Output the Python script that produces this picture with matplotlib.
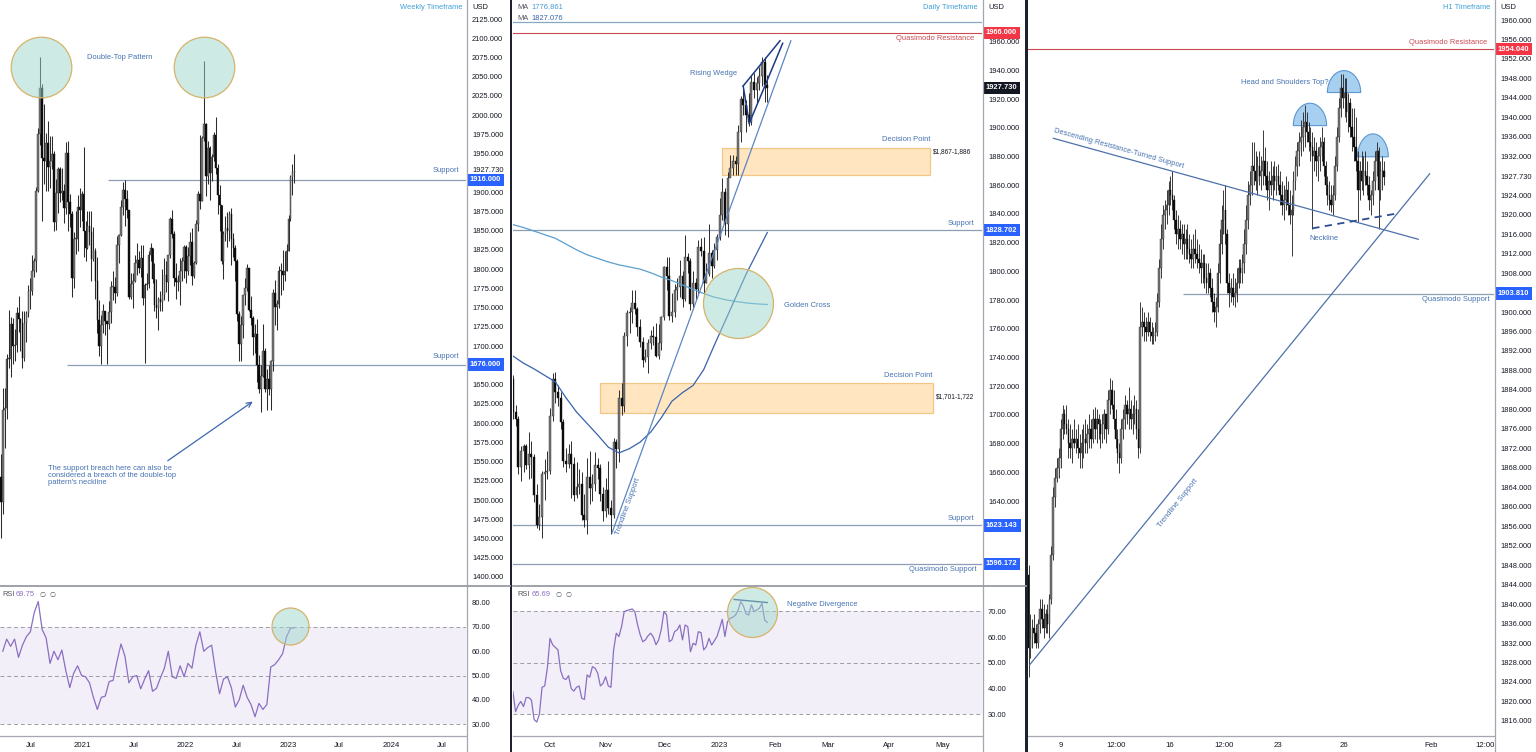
import datetime as dt
import numpy as np
import matplotlib
matplotlib.use("Agg")
import matplotlib.pyplot as plt
import matplotlib.dates as mdates
from matplotlib.patches import Rectangle, Polygon
from matplotlib.lines import Line2D

W, H = 1536, 752
FONT = ['Liberation Sans', 'DejaVu Sans']
plt.rcParams['font.family'] = FONT
FS = 5.4

TXT = '#131722'
NOTE = '#4571b1'
TF = '#3f9fd6'
LEVEL = '#8c9eb4'
RED = '#cc4a52'
BOXBLUE = '#2962ff'
BOXRED = '#f23645'
RSI_C = '#8a6fc0'
FRAME = '#a4a7b0'
UP, DOWN = '#767676', '#0c0c0c'

# ---------------- weekly XAU/USD (left panel) ----------------
w_first = dt.date(2020, 3, 16)
w_open0 = 1530
w_close = [1498, 1617, 1620, 1683, 1683, 1729, 1700, 1702, 1743, 1735, 1730, 1684, 1730, 1743, 1771, 1772, 1798, 1810, 1902, 1975,
           2035, 1944, 1940, 1964, 1933, 1940, 1950, 1861, 1899, 1930, 1899, 1902, 1879, 1951, 1887, 1871, 1788, 1839, 1839, 1881,
           1877, 1898, 1850, 1828, 1856, 1848, 1813, 1824, 1784, 1734, 1700, 1727, 1745, 1732, 1729, 1744, 1777, 1777, 1769, 1831,
           1844, 1881, 1903, 1891, 1877, 1764, 1781, 1784, 1808, 1812, 1802, 1814, 1763, 1779, 1781, 1818, 1827, 1787, 1754, 1750,
           1761, 1757, 1767, 1792, 1783, 1818, 1865, 1846, 1788, 1783, 1783, 1798, 1811, 1829, 1797, 1817, 1835, 1791, 1808, 1859,
           1898, 1889, 1970, 1988, 1921, 1958, 1925, 1946, 1974, 1931, 1896, 1883, 1811, 1846, 1853, 1850, 1871, 1839, 1827, 1811,
           1742, 1703, 1727, 1766, 1775, 1802, 1747, 1737, 1712, 1716, 1675, 1644, 1661, 1694, 1644, 1657, 1644, 1681, 1769, 1751,
           1755, 1797, 1797, 1793, 1798, 1824, 1865, 1920, 1926, 1928]
w_high = [1560, 1645, 1645, 1690, 1747, 1738, 1737, 1722, 1751, 1765, 1736, 1745, 1745, 1745, 1779, 1789, 1818, 1815, 1907, 1984,
          2075, 2040, 2015, 1977, 1992, 1973, 1973, 1954, 1917, 1933, 1933, 1931, 1910, 1965, 1966, 1898, 1875, 1848, 1875, 1896,
          1906, 1901, 1959, 1863, 1875, 1875, 1875, 1855, 1827, 1816, 1760, 1740, 1755, 1745, 1733, 1758, 1785, 1797, 1790, 1843,
          1846, 1890, 1913, 1916, 1903, 1877, 1795, 1795, 1818, 1834, 1824, 1832, 1832, 1782, 1795, 1823, 1834, 1827, 1808, 1787,
          1764, 1771, 1800, 1814, 1810, 1819, 1868, 1877, 1849, 1808, 1793, 1815, 1816, 1831, 1831, 1829, 1848, 1853, 1810, 1864,
          1902, 1974, 1973, 2070, 1990, 1966, 1960, 1949, 1978, 1998, 1937, 1909, 1883, 1849, 1869, 1874, 1875, 1879, 1847, 1831,
          1813, 1745, 1739, 1767, 1788, 1807, 1802, 1765, 1739, 1729, 1735, 1688, 1675, 1729, 1697, 1670, 1676, 1682, 1774, 1786,
          1760, 1804, 1808, 1825, 1823, 1833, 1870, 1922, 1937, 1949]
w_low = [1451, 1482, 1568, 1605, 1672, 1660, 1677, 1681, 1692, 1718, 1693, 1671, 1680, 1705, 1738, 1748, 1767, 1790, 1796, 1900,
         1961, 1863, 1911, 1902, 1902, 1906, 1930, 1849, 1851, 1873, 1887, 1890, 1860, 1872, 1850, 1855, 1764, 1775, 1820, 1823,
         1855, 1863, 1816, 1811, 1826, 1831, 1785, 1810, 1761, 1717, 1687, 1677, 1717, 1714, 1677, 1722, 1730, 1760, 1756, 1765,
         1808, 1843, 1870, 1856, 1866, 1761, 1761, 1750, 1783, 1792, 1795, 1790, 1753, 1678, 1773, 1775, 1810, 1782, 1745, 1737,
         1721, 1746, 1746, 1760, 1770, 1758, 1815, 1840, 1778, 1761, 1771, 1753, 1785, 1789, 1782, 1793, 1805, 1780, 1788, 1807,
         1850, 1878, 1889, 1966, 1895, 1910, 1890, 1915, 1940, 1924, 1872, 1850, 1807, 1787, 1836, 1829, 1836, 1805, 1816, 1784,
         1732, 1681, 1680, 1711, 1754, 1771, 1746, 1728, 1688, 1691, 1654, 1639, 1614, 1660, 1640, 1617, 1637, 1617, 1668, 1728,
         1721, 1749, 1766, 1773, 1785, 1797, 1823, 1863, 1896, 1912]
# weekly RSI, read every second week (weeks 1, 3, 5, ...)
w_rsi = [60, 65, 62, 65, 57.5, 62.5, 66, 68, 76, 80.5, 69, 65.5, 55, 60, 56.5, 60.5, 52, 45, 51, 54,
         50, 49.5, 47, 41, 36, 41, 41.5, 47.5, 48, 56, 63, 58, 47, 49.5, 50, 44.5, 48.5, 52, 43.5, 44.7,
         49, 53, 60, 49.5, 48.8, 54, 49.5, 55, 53, 62.5, 68, 60, 61.5, 62.5, 51.6, 42.5, 48.5, 49.5, 45, 37,
         40, 46, 41, 38, 33, 38.5, 36, 38, 53.5, 54.5, 56.5, 59, 66, 69.5, 69.75]
w_date_ticks = [dt.date(2020, 7, 1), dt.date(2021, 1, 1), dt.date(2021, 7, 1), dt.date(2022, 1, 1), dt.date(2022, 7, 1),
                dt.date(2023, 1, 1), dt.date(2023, 7, 1), dt.date(2024, 1, 1), dt.date(2024, 7, 1)]
w_date_labels = ['Jul', '2021', 'Jul', '2022', 'Jul', '2023', 'Jul', '2024', 'Jul']

# ---------------- daily XAU/USD (middle panel), 13 Sep 2022 - 27 Jan 2023 ----------------
d_open0 = 1725
d_close = [1702, 1697, 1664, 1675, 1678, 1665, 1673, 1671, 1644, 1623, 1629, 1659, 1660, 1661,
           1699, 1725, 1716, 1712, 1695, 1668, 1666, 1673, 1666, 1644, 1650, 1652, 1630, 1627, 1657, 1649, 1652, 1665, 1663, 1645, 1633,
           1648, 1635, 1630, 1681, 1676, 1712, 1706, 1755, 1771, 1772, 1778, 1774, 1761, 1751, 1738, 1740, 1750, 1755, 1754, 1741, 1750, 1768,
           1803, 1797, 1769, 1772, 1787, 1789, 1797, 1781, 1810, 1807, 1777, 1792, 1788, 1817, 1814, 1792, 1798, 1813, 1804, 1815, 1824,
           1839, 1855, 1833, 1865, 1872, 1877, 1875, 1897, 1920, 1916, 1909, 1904, 1932, 1926, 1931, 1936, 1946, 1930, 1928]
d_high = [1728, 1707, 1699, 1678, 1680, 1680, 1688, 1682, 1673, 1652, 1638, 1661, 1669, 1675,
          1705, 1729, 1730, 1721, 1716, 1697, 1677, 1680, 1682, 1671, 1667, 1662, 1660, 1645, 1670, 1675, 1659, 1674, 1670, 1666, 1650,
          1656, 1668, 1641, 1684, 1683, 1717, 1722, 1758, 1773, 1775, 1787, 1787, 1775, 1767, 1754, 1746, 1753, 1759, 1762, 1764, 1763, 1769,
          1804, 1810, 1810, 1785, 1791, 1795, 1808, 1800, 1825, 1813, 1809, 1800, 1795, 1822, 1823, 1824, 1806, 1833, 1815, 1820, 1826,
          1851, 1865, 1858, 1869, 1881, 1881, 1880, 1902, 1922, 1930, 1919, 1924, 1936, 1938, 1935, 1942, 1949, 1949, 1937]
d_low = [1697, 1692, 1659, 1654, 1660, 1662, 1655, 1656, 1639, 1621, 1620, 1614, 1641, 1655,
         1659, 1696, 1708, 1706, 1690, 1664, 1660, 1663, 1642, 1640, 1642, 1645, 1627, 1622, 1617, 1638, 1640, 1647, 1655, 1640, 1626,
         1629, 1631, 1617, 1628, 1663, 1667, 1700, 1702, 1748, 1757, 1764, 1770, 1755, 1747, 1733, 1737, 1729, 1746, 1749, 1740, 1739, 1745,
         1766, 1787, 1766, 1765, 1768, 1780, 1782, 1775, 1779, 1799, 1773, 1774, 1781, 1785, 1811, 1784, 1792, 1797, 1795, 1802, 1808,
         1822, 1836, 1825, 1824, 1866, 1867, 1867, 1867, 1890, 1909, 1897, 1901, 1902, 1921, 1917, 1926, 1929, 1918, 1918]
d_rsi = [38.8, 31, 33.5, 35, 33, 36.5, 36.5, 35.5, 28, 27, 30, 40.5, 41, 48,
         59.5, 57, 56, 55, 47, 44, 43.5, 45, 40, 39, 40.5, 41, 36.2, 35.8, 45.3, 44.4, 48.5, 47.9, 46, 41, 42,
         44.6, 41, 40.5, 55, 61.5, 60.2, 64, 69.9, 70.3, 70.6, 70.9, 69.9, 65, 61, 58.2, 58.9, 60.5, 61.5, 60, 57, 58.9, 63,
         69.9, 68.6, 58.2, 58.9, 62.1, 62.8, 64.7, 58.9, 64.7, 64, 54.3, 57.6, 56.9, 62.1, 61.7, 55, 56.3, 59.5, 56.9, 58.5, 60.2,
         63.4, 66.9, 60.2, 66, 67.3, 67.7, 68.5, 70.5, 73.8, 72, 69, 68.6, 72.5, 69.9, 70.5, 71.2, 73.1, 66.6, 65.69]
# moving averages read every 4th bar
ma200 = [1832.5, 1830.5, 1828, 1825.5, 1823, 1819, 1815, 1811.5, 1809, 1806.5, 1804.5, 1803, 1801.5,
         1799, 1796, 1793.5, 1790.5, 1787.5, 1784.5, 1782, 1780.3, 1779, 1778, 1777.3, 1776.9]
ma50 = [1741, 1736, 1732, 1727.5, 1723, 1712, 1702, 1694, 1686, 1677.5, 1673.5, 1676.5, 1681,
        1688, 1698, 1709.5, 1715.5, 1720.5, 1731.5, 1748.5, 1765, 1781.5, 1798, 1812.5, 1827]
d_tick_bars = [14, 35, 57, 78, 99, 119, 142, 162]
d_tick_labels = ['Oct', 'Nov', 'Dec', '2023', 'Feb', 'Mar', 'Apr', 'May']

# ---------------- H1 XAU/USD (right panel), read as 2-hour steps ----------------
h_open0 = 1846
h_high = [1848, 1838, 1837, 1838, 1836, 1837, 1841, 1841, 1840, 1839, 1840, 1842, 1852, 1864, 1868, 1870, 1872, 1878, 1881, 1880,
          1881, 1878, 1877, 1876, 1878, 1876, 1877, 1875, 1876, 1877, 1878, 1877, 1879, 1878, 1880, 1880.5, 1880, 1879, 1878, 1879,
          1880, 1879, 1884, 1886.5, 1886, 1884, 1880, 1876, 1873, 1878, 1880, 1883, 1882, 1884.5, 1882, 1881, 1883, 1882, 1880, 1902,
          1901, 1900, 1899, 1900, 1899, 1898, 1897, 1898, 1904, 1911, 1918, 1922, 1923, 1925, 1927, 1928, 1929, 1924, 1921, 1920,
          1919, 1918, 1918, 1917, 1918, 1916, 1915, 1916, 1917, 1915, 1914, 1913, 1912, 1912, 1910, 1910, 1909, 1907, 1904, 1903,
          1910, 1917, 1922, 1925, 1926, 1917, 1908, 1907, 1908, 1907, 1909, 1911, 1911, 1912, 1917, 1922, 1927, 1929, 1935, 1935,
          1933, 1932, 1933, 1932, 1937.5, 1934, 1931, 1929, 1931, 1930, 1931, 1930, 1930.5, 1929, 1927, 1926, 1928, 1927, 1925, 1924,
          1929, 1932, 1935, 1937, 1939.5, 1941, 1942.5, 1941, 1939, 1938, 1937, 1936, 1935, 1934, 1936, 1938, 1936, 1931, 1928, 1927,
          1926, 1926, 1932, 1938, 1944, 1949, 1949, 1948, 1948, 1945, 1944, 1942, 1942, 1940, 1933, 1931, 1933, 1932, 1933, 1931,
          1928, 1925, 1929, 1933, 1935, 1934, 1931, 1932, 1931]
h_low = [1825, 1829, 1831, 1832, 1831, 1831, 1834, 1835, 1833, 1834, 1834, 1833, 1840, 1849, 1860, 1865, 1866, 1868, 1874, 1875,
         1875, 1870, 1870, 1869, 1872, 1871, 1870, 1868, 1868, 1870, 1871, 1871, 1872, 1872, 1873, 1874, 1873, 1874, 1872, 1873,
         1874, 1873, 1875, 1879, 1880, 1876, 1872, 1869, 1867, 1869, 1874, 1876, 1877, 1876, 1876, 1875, 1877, 1874, 1870, 1871,
         1895, 1894, 1894, 1895, 1894, 1893.5, 1893.5, 1894, 1895, 1901, 1907, 1913, 1917, 1918, 1920, 1922, 1921, 1917, 1914, 1913,
         1913, 1912, 1911, 1911, 1911, 1910, 1909, 1909, 1910, 1909, 1908, 1906, 1906, 1905, 1904, 1904, 1903, 1900, 1898, 1897,
         1900, 1906, 1912, 1916, 1914, 1904, 1901, 1902, 1901.5, 1901, 1902, 1905, 1906, 1906, 1908, 1912, 1917, 1922, 1924, 1926,
         1925, 1924, 1926, 1925, 1926, 1926, 1923, 1921, 1924, 1923, 1925, 1924, 1925, 1922, 1920, 1919, 1921, 1920, 1918, 1911.5,
         1920, 1925, 1928, 1930, 1932, 1933, 1934, 1935, 1933, 1931, 1917, 1929, 1928, 1927, 1929, 1931, 1928, 1924, 1922, 1921,
         1920.5, 1920, 1923, 1929, 1935, 1940, 1942, 1940, 1939, 1937, 1936, 1933, 1931, 1929, 1918.5, 1923, 1925, 1924, 1926, 1924,
         1921, 1920, 1922, 1925, 1928, 1917, 1923, 1925, 1926]
h_close = [1831, 1833, 1835, 1834, 1832, 1836, 1839, 1837, 1835, 1838, 1836, 1841, 1850, 1862, 1866, 1868, 1870, 1876, 1879, 1877,
           1876, 1873, 1872, 1874, 1873, 1874, 1872, 1871, 1873, 1874, 1873, 1875, 1876, 1874, 1878, 1876, 1878, 1877, 1875, 1877,
           1879, 1876, 1882, 1884, 1881, 1878, 1874, 1871, 1870, 1876, 1878, 1881, 1879, 1880, 1878, 1879, 1880, 1876, 1872, 1897,
           1898, 1897, 1896, 1898, 1896, 1895, 1895, 1896, 1902, 1909, 1915, 1920, 1921, 1922, 1925, 1924, 1923, 1919, 1916, 1917,
           1915, 1916, 1914, 1915, 1913, 1912, 1911, 1913, 1912, 1911, 1910, 1909, 1910, 1907, 1906, 1908, 1905, 1902, 1900, 1901,
           1908, 1914, 1919, 1921, 1916, 1906, 1904, 1905, 1903, 1904, 1906, 1909, 1908, 1910, 1914, 1919, 1924, 1926, 1930, 1929,
           1927, 1930, 1928, 1929, 1931, 1928, 1925, 1927, 1926, 1928, 1927, 1928, 1926, 1924, 1922, 1923, 1925, 1922, 1920, 1921,
           1927, 1930, 1933, 1935, 1936, 1938, 1939, 1937, 1935, 1934, 1932, 1933, 1931, 1932, 1934, 1935, 1930, 1926, 1924, 1923,
           1922, 1924, 1930, 1936, 1942, 1946, 1944, 1945, 1941, 1943, 1938, 1936, 1934, 1931, 1925, 1929, 1927, 1929, 1928, 1926,
           1923, 1924, 1927, 1931, 1933, 1925, 1929, 1929, 1927.73]
h_tick_bars = [0, 58, 115, 173, 230, 299, 391, 449]
h_tick_labels = ['9', '12:00', '16', '12:00', '23', '26', 'Feb', '12:00']

# ------------------------------------------------------------------
fig = plt.figure(figsize=(W / 100, H / 100), dpi=100)
fig.patch.set_facecolor('white')


def px_axes(x0, y0, x1, y1):
    ax = fig.add_axes([x0 / W, 1 - y1 / H, (x1 - x0) / W, (y1 - y0) / H])
    for s in ax.spines.values():
        s.set_visible(False)
    ax.yaxis.tick_right()
    ax.tick_params(length=0, labelsize=FS, labelcolor=TXT)
    ax.tick_params(axis='y', pad=4.3)
    ax.tick_params(axis='x', pad=4.0, labelsize=5.6)
    return ax


def ftext(x, y, s, **kw):
    kw.setdefault('fontsize', FS)
    kw.setdefault('va', 'center')
    fig.text(x / W, 1 - y / H, s, **kw)


def candles(ax, x, open0, h, l, c, width, wick_lw, minh):
    c = np.asarray(c, float)
    h = np.asarray(h, float)
    l = np.asarray(l, float)
    o = np.concatenate([[open0], c[:-1]])
    x = np.asarray(x, float)
    up = c >= o
    ax.vlines(x, l, h, colors='#2c2c2c', lw=wick_lw, zorder=3)
    lo = np.minimum(o, c)
    ht = np.maximum(np.abs(c - o), minh)
    ax.bar(x[up], ht[up], width, lo[up], color=UP, edgecolor='#333333', linewidth=0.3, zorder=4)
    ax.bar(x[~up], ht[~up], width, lo[~up], color=DOWN, edgecolor=DOWN, linewidth=0.3, zorder=4)


def price_ticks(ax, ticks, fmt):
    ax.set_yticks(ticks)
    ax.set_yticklabels([fmt.format(t) for t in ticks])


def tag(ax, y, s, fc=None, color='white'):
    if fc is None:
        ax.annotate(s, xy=(1, y), xycoords=ax.get_yaxis_transform(), xytext=(6, 0),
                    textcoords='offset pixels', ha='left', va='center', fontsize=FS,
                    color=TXT, annotation_clip=False, zorder=20)
    else:
        ax.annotate(s, xy=(1, y), xycoords=ax.get_yaxis_transform(), xytext=(4, 0),
                    textcoords='offset pixels', ha='left', va='center', fontsize=FS,
                    color=color, fontweight='bold', annotation_clip=False, zorder=20,
                    bbox=dict(boxstyle='square,pad=0.38', fc=fc, ec='none'))


def level_label(ax, y, s, dy, color=NOTE, dx=-7):
    ax.annotate(s, xy=(1, y), xycoords=ax.get_yaxis_transform(), xytext=(dx, dy),
                textcoords='offset pixels', ha='right', va='center', fontsize=FS, color=color)


def circle(ax, x, y, diam_px):
    ax.plot([x], [y], marker='o', ms=diam_px * 0.72, mfc=(0.62, 0.84, 0.80, 0.5),
            mec='#d5b36a', mew=0.9, ls='none', zorder=6, clip_on=False)


def rsi_pane(ax):
    ax.axhspan(30, 70, color='#7e57c2', alpha=0.09, lw=0, zorder=0)
    for lvl in (70, 50, 30):
        ax.axhline(lvl, color='#9c9ca4', lw=0.7, ls=(0, (4, 3)), zorder=1)
    ax.spines['bottom'].set_visible(True)
    ax.spines['bottom'].set_color(FRAME)
    ax.spines['bottom'].set_linewidth(0.9)


# ================= LEFT: weekly =================
axL = px_axes(0, 0, 466, 585)
axLr = px_axes(0, 586, 466, 736)
d2021 = mdates.date2num(dt.date(2021, 1, 1))
PXD = 0.28155
xl = (d2021 - 82.7 / PXD, d2021 + (466 - 82.7) / PXD)
w_x = mdates.date2num([w_first + dt.timedelta(weeks=i) for i in range(len(w_close))])

axL.set_xlim(xl)
axL.set_ylim(1389.6, 2149.7)
axL.set_xticks([])
candles(axL, w_x, w_open0, w_high, w_low, w_close, 5.8, 0.75, 1.5)
price_ticks(axL, [v for v in range(1400, 2126, 25) if v not in (1925, 1675)], '{:.3f}')

axL.hlines(1916, mdates.date2num(dt.date(2021, 4, 1)), xl[1], color=LEVEL, lw=0.9, zorder=2)
axL.hlines(1676, mdates.date2num(dt.date(2020, 11, 5)), xl[1], color=LEVEL, lw=0.9, zorder=2)
level_label(axL, 1916, 'Support', 9)
level_label(axL, 1676, 'Support', 8)
tag(axL, 1927.73, '1927.730')
tag(axL, 1916, '1916.000', BOXBLUE)
tag(axL, 1676, '1676.000', BOXBLUE)
circle(axL, mdates.date2num(dt.date(2020, 8, 6)), 2062.6, 60.6)
circle(axL, mdates.date2num(dt.date(2022, 3, 7)), 2062.6, 60.6)
axL.text(mdates.date2num(dt.date(2021, 5, 13)), 2075, 'Double-Top Pattern', fontsize=FS,
         color=NOTE, ha='center', va='center')
axL.text(mdates.date2num(dt.date(2020, 9, 1)), 1545,
         "The support breach here can also be\nconsidered a breach of the double-top\npattern's neckline",
         fontsize=FS, color=NOTE, ha='left', va='top', linespacing=1.0)
axL.annotate('', xy=(mdates.date2num(dt.date(2022, 9, 5)), 1630),
             xytext=(mdates.date2num(dt.date(2021, 10, 22)), 1549),
             arrowprops=dict(arrowstyle='->', color='#3b68b0', lw=0.9, mutation_scale=9))

axLr.set_xlim(xl)
axLr.set_ylim(25.06, 86.9)
rsi_pane(axLr)
axLr.plot(w_x[1::2], w_rsi, color=RSI_C, lw=0.9, zorder=3)
price_ticks(axLr, [30, 40, 50, 60, 70, 80], '{:.2f}')
axLr.set_xticks(mdates.date2num(w_date_ticks))
axLr.set_xticklabels(w_date_labels)
circle(axLr, mdates.date2num(dt.date(2023, 1, 7)), 70.4, 37)

ftext(462.7, 7.7, 'Weekly Timeframe', color=TF, ha='right')
ftext(472, 7.3, 'USD', color=TXT, ha='left')
ftext(2, 594.7, 'RSI', color='#50535e', ha='left')
ftext(16, 594.7, '69.75', color=RSI_C, ha='left')
ftext(39, 594.7, '\u2205', color='#50535e', ha='left', family=['DejaVu Sans'], fontsize=5)
ftext(49, 594.7, '\u2205', color='#50535e', ha='left', family=['DejaVu Sans'], fontsize=5)

# ================= MIDDLE: daily =================
axM = px_axes(513, 0, 982, 585)
axMr = px_axes(513, 586, 982, 736)
mxl = (14 + (513 - 550) / 2.65, 14 + (982 - 550) / 2.65)
d_x = np.arange(len(d_close))
ma_x = np.arange(0, len(d_close), 4)

axM.set_xlim(mxl)
axM.set_ylim(1581.5, 1988.97)
axM.set_xticks([])
price_ticks(axM, list(range(1640, 1961, 20)), '{:.3f}')

axM.add_patch(Rectangle((79.0, 1867), 78.4, 19, fc='#ffe0b2', ec='#efbd6f', lw=0.9, alpha=0.8, zorder=2))
axM.add_patch(Rectangle((32.9, 1701), 125.5, 21, fc='#ffe0b2', ec='#efbd6f', lw=0.9, alpha=0.8, zorder=2))
axM.axhline(1973.4, color='#86a8c4', lw=0.9, zorder=2)
axM.axhline(1966, color=RED, lw=0.8, zorder=2)
for lvl in (1828.702, 1623.143, 1596.172):
    axM.axhline(lvl, color=LEVEL, lw=0.9, zorder=2)
axM.plot(ma_x, ma200, color='#5a9fcf', lw=0.9, zorder=5)
axM.plot(ma_x, ma50, color='#3862ab', lw=0.9, zorder=5)
candles(axM, d_x, d_open0, d_high, d_low, d_close, 0.75, 0.7, 0.8)
axM.plot([37.4, 104.9], [1617.8, 1960.6], color='#5a86c5', lw=0.9, zorder=5)
axM.plot([86.9, 100.8], [1929.1, 1960.6], color='#1d3a85', lw=1.1, zorder=5)
axM.plot([89.2, 101.8], [1903.1, 1958.8], color='#1d3a85', lw=1.1, zorder=5)
axM.plot([86.9, 89.2], [1929.1, 1903.1], color='#1d3a85', lw=1.1, zorder=5)
circle(axM, 85.05, 1777.9, 70)

level_label(axM, 1966, 'Quasimodo Resistance', -6, color=RED, dx=-8)
level_label(axM, 1828.702, 'Support', 6.5, dx=-8)
level_label(axM, 1623.143, 'Support', 6.5, dx=-8)
level_label(axM, 1596.172, 'Quasimodo Support', -6, dx=-6)
tag(axM, 1966, '1966.000', BOXRED)
tag(axM, 1927.73, '1927.730', '#131722')
tag(axM, 1828.702, '1828.702', BOXBLUE)
tag(axM, 1623.143, '1623.143', BOXBLUE)
tag(axM, 1596.172, '1596.172', BOXBLUE)
axM.text(157.4, 1891.5, 'Decision Point', fontsize=FS, color=NOTE, ha='right', va='center')
axM.text(158.6, 1883.6, r'\$1,867-1,886', fontsize=4.7, color=TXT, ha='left', va='center')
axM.text(158.4, 1727.3, 'Decision Point', fontsize=FS, color=NOTE, ha='right', va='center')
axM.text(159.7, 1712.7, r'\$1,701-1,722', fontsize=4.7, color=TXT, ha='left', va='center')
axM.text(75.9, 1937.6, 'Rising Wedge', fontsize=FS, color=NOTE, ha='center', va='center')
axM.text(102.4, 1776.5, 'Golden Cross', fontsize=FS, color=NOTE, ha='left', va='center')
axM.text(43.6, 1636, 'Trendline Support', fontsize=FS, color=NOTE, ha='center', va='center', rotation=70)

axMr.set_xlim(mxl)
axMr.set_ylim(21.57, 79.83)
rsi_pane(axMr)
axMr.plot(d_x, d_rsi, color=RSI_C, lw=0.9, zorder=3)
axMr.plot([83.5, 96], [74.6, 73.4], color='#2b4a8a', lw=1.0, zorder=5)
circle(axMr, 90.1, 69.8, 50)
axMr.text(103.3, 72.8, 'Negative Divergence', fontsize=FS, color=NOTE, ha='left', va='center')
price_ticks(axMr, [30, 40, 50, 60, 70], '{:.2f}')
axMr.set_xticks(d_tick_bars)
axMr.set_xticklabels(d_tick_labels)

ftext(517, 7.3, 'MA', color='#50535e', ha='left')
ftext(531.5, 7.3, '1776.861', color='#4a9ad0', ha='left')
ftext(517, 18.3, 'MA', color='#50535e', ha='left')
ftext(531.5, 18.3, '1827.076', color='#3862ab', ha='left')
ftext(977.7, 7.7, 'Daily Timeframe', color=TF, ha='right')
ftext(988, 7.3, 'USD', color=TXT, ha='left')
ftext(517, 594.7, 'RSI', color='#50535e', ha='left')
ftext(531.5, 594.7, '65.69', color=RSI_C, ha='left')
ftext(556, 594.7, '\u2205', color='#50535e', ha='left', family=['DejaVu Sans'], fontsize=5)
ftext(565.5, 594.7, '\u2205', color='#50535e', ha='left', family=['DejaVu Sans'], fontsize=5)

# ================= RIGHT: H1 =================
axR = px_axes(1028, 0, 1494, 736)
axR.set_xlim((1028 - 1060.7) / 0.946, (1494 - 1060.7) / 0.946)
axR.set_ylim(1812.9, 1964.11)
h_x = -34 + 2 * np.arange(len(h_close))
candles(axR, h_x, h_open0, h_high, h_low, h_close, 1.6, 0.65, 0.3)
price_ticks(axR, [v for v in range(1816, 1961, 4) if v not in (1928, 1904)], '{:.3f}')
axR.spines['bottom'].set_visible(True)
axR.spines['bottom'].set_color(FRAME)
axR.spines['bottom'].set_linewidth(0.9)
axR.set_xticks(h_tick_bars)
axR.set_xticklabels(h_tick_labels)

axR.axhline(1954.04, color=RED, lw=0.8, zorder=2)
axR.hlines(1903.81, 129.6, axR.get_xlim()[1], color=LEVEL, lw=0.9, zorder=2)
level_label(axR, 1954.04, 'Quasimodo Resistance', 7, color=RED, dx=-7)
level_label(axR, 1903.81, 'Quasimodo Support', -5.5, dx=-5)
tag(axR, 1954.04, '1954.040', BOXRED)
tag(axR, 1927.73, '1927.730')
tag(axR, 1903.81, '1903.810', BOXBLUE)
axR.plot([-7.8, 378], [1935.7, 1914.95], color='#4d71aa', lw=0.9, zorder=5)
axR.plot([-32.5, 390], [1827.6, 1928.4], color='#4d71aa', lw=0.9, zorder=5)
axR.plot([266, 357], [1917.2, 1920.3], color='#2c4d8e', lw=1.3, ls=(0, (4, 3)), zorder=5)


def dome(ax, cx, base, hw, hh):
    t = np.linspace(0, np.pi, 40)
    pts = np.column_stack([cx + hw * np.cos(t), base + hh * np.sin(t)])
    ax.add_patch(Polygon(pts, closed=True, fc='#a6cff0', ec='#5b97d1', lw=0.8, zorder=2.5))


dome(axR, 263.5, 1938.3, 17.6, 4.6)
dome(axR, 299.5, 1945.1, 17.6, 4.5)
dome(axR, 330.1, 1931.9, 16.2, 4.7)
axR.text(61.6, 1933.5, 'Descending Resistance-Turned Support', fontsize=FS, color=NOTE,
         ha='center', va='center', rotation=-15.5)
axR.text(124.3, 1860.7, 'Trendline Support', fontsize=FS, color=NOTE, ha='center', va='center', rotation=51.6)
axR.text(278.3, 1915.2, 'Neckline', fontsize=FS, color=NOTE, ha='center', va='center')
axR.text(237.1, 1947.1, 'Head and Shoulders Top?', fontsize=FS, color=NOTE, ha='center', va='center')

ftext(1490, 7.7, 'H1 Timeframe', color=TF, ha='right')
ftext(1500, 7.3, 'USD', color=TXT, ha='left')

# ================= frame lines =================
for x in (466.5, 982.5, 1494.5):
    fig.add_artist(Line2D([x / W, x / W], [0, 1], transform=fig.transFigure, color=FRAME, lw=0.9))
for x0, x1 in ((0, 510), (512.5, 1025.5)):
    fig.add_artist(Line2D([x0 / W, x1 / W], [1 - 585.5 / H] * 2, transform=fig.transFigure, color='#999ba3', lw=1.3))
for x0 in (509.5, 1025.3):
    fig.add_artist(Rectangle((x0 / W, 0), 2.8 / W, 1, transform=fig.transFigure, color='#1e222d', lw=0))

fig.savefig('out.png', dpi=100)
